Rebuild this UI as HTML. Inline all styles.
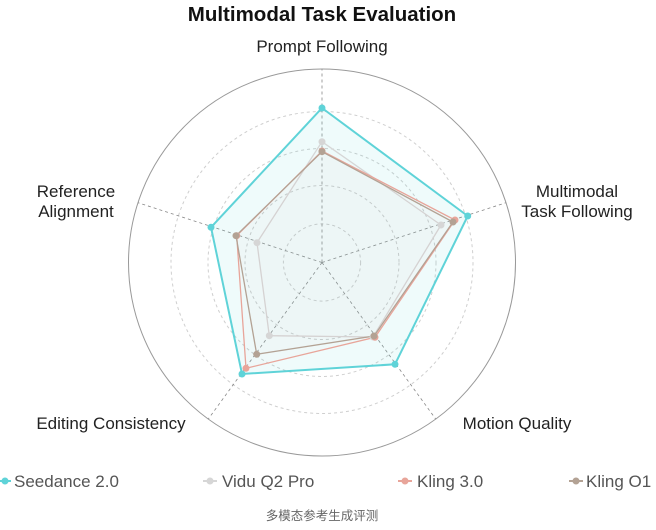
<!DOCTYPE html>
<html><head><meta charset="utf-8"><style>
html,body{margin:0;padding:0;background:#fff;}
svg{display:block;font-family:"Liberation Sans","Noto Sans CJK SC",sans-serif;}
</style></head><body>
<svg width="656" height="530" viewBox="0 0 656 530" xmlns="http://www.w3.org/2000/svg">
<text x="322" y="21" text-anchor="middle" font-size="20.5" font-weight="bold" fill="#111">Multimodal Task Evaluation</text>
<g fill="none" stroke="#cfcfcf" stroke-dasharray="3,3" stroke-width="1">
<circle cx="322" cy="262.5" r="38.6"/><circle cx="322" cy="262.5" r="77"/><circle cx="322" cy="262.5" r="114"/><circle cx="322" cy="262.5" r="151"/>
</g>
<circle cx="322" cy="262.5" r="193.5" fill="none" stroke="#999" stroke-width="1"/>
<g stroke="#888" stroke-dasharray="3,3" stroke-width="0.8">
<line x1="322" y1="262.5" x2="322" y2="69"/>
<line x1="322" y1="262.5" x2="506" y2="202.7"/>
<line x1="322" y1="262.5" x2="435.7" y2="419"/>
<line x1="322" y1="262.5" x2="208.3" y2="419"/>
<line x1="322" y1="262.5" x2="138" y2="202.7"/>
</g>
<polygon points="322,108 467.7,216 395,364.3 242,374 211,227.3" fill="#5fd3d8" fill-opacity="0.1" stroke="#5fd3d8" stroke-width="2"/>
<polygon points="322,141.7 441,225 373,337 269.3,335.7 257,242.7" fill="#d6d6d6" fill-opacity="0.03" stroke="#d6d6d6" stroke-width="1.3"/>
<polygon points="322,151 455,220 375,337.3 246,368.3 236.7,235.7" fill="#e8a59a" fill-opacity="0.02" stroke="#e8a59a" stroke-width="1.3"/>
<polygon points="322,151.7 453,222 374,336 256.7,354.3 236,235.7" fill="#b3a294" fill-opacity="0.02" stroke="#b3a294" stroke-width="1.3"/>
<g fill="#d6d6d6"><circle cx="322" cy="141.7" r="3.5"/><circle cx="441" cy="225" r="3.5"/><circle cx="373" cy="337" r="3.5"/><circle cx="269.3" cy="335.7" r="3.5"/><circle cx="257" cy="242.7" r="3.5"/></g>
<g fill="#e8a59a"><circle cx="322" cy="151" r="3.5"/><circle cx="455" cy="220" r="3.5"/><circle cx="375" cy="337.3" r="3.5"/><circle cx="246" cy="368.3" r="3.5"/><circle cx="236.7" cy="235.7" r="3.5"/></g>
<g fill="#b3a294"><circle cx="322" cy="151.7" r="3.5"/><circle cx="453" cy="222" r="3.5"/><circle cx="374" cy="336" r="3.5"/><circle cx="256.7" cy="354.3" r="3.5"/><circle cx="236" cy="235.7" r="3.5"/></g>
<g fill="#5fd3d8"><circle cx="322" cy="108" r="3.5"/><circle cx="467.7" cy="216" r="3.5"/><circle cx="395" cy="364.3" r="3.5"/><circle cx="242" cy="374" r="3.5"/><circle cx="211" cy="227.3" r="3.5"/></g>
<g font-size="17" fill="#222">
<text x="322" y="52" text-anchor="middle">Prompt Following</text>
<text x="577" y="197" text-anchor="middle">Multimodal</text>
<text x="577" y="217" text-anchor="middle">Task Following</text>
<text x="517" y="429" text-anchor="middle">Motion Quality</text>
<text x="111" y="429" text-anchor="middle">Editing Consistency</text>
<text x="76" y="197" text-anchor="middle">Reference</text>
<text x="76" y="217" text-anchor="middle">Alignment</text>
</g>
<g font-size="17" fill="#555">
<line x1="0" y1="481" x2="11" y2="481" stroke="#5fd3d8" stroke-width="2"/><circle cx="5" cy="481" r="3.5" fill="#5fd3d8"/>
<text x="14" y="487">Seedance 2.0</text>
<line x1="203" y1="481" x2="217" y2="481" stroke="#d6d6d6" stroke-width="2"/><circle cx="210" cy="481" r="3.5" fill="#d6d6d6"/>
<text x="222" y="487">Vidu Q2 Pro</text>
<line x1="398" y1="481" x2="412" y2="481" stroke="#e8a59a" stroke-width="2"/><circle cx="405" cy="481" r="3.5" fill="#e8a59a"/>
<text x="417" y="487">Kling 3.0</text>
<line x1="569" y1="481" x2="583" y2="481" stroke="#b3a294" stroke-width="2"/><circle cx="576" cy="481" r="3.5" fill="#b3a294"/>
<text x="586" y="487">Kling O1</text>
</g>
<text x="322" y="520" text-anchor="middle" font-size="12.5" fill="#666">多模态参考生成评测</text>
</svg>
</body></html>
